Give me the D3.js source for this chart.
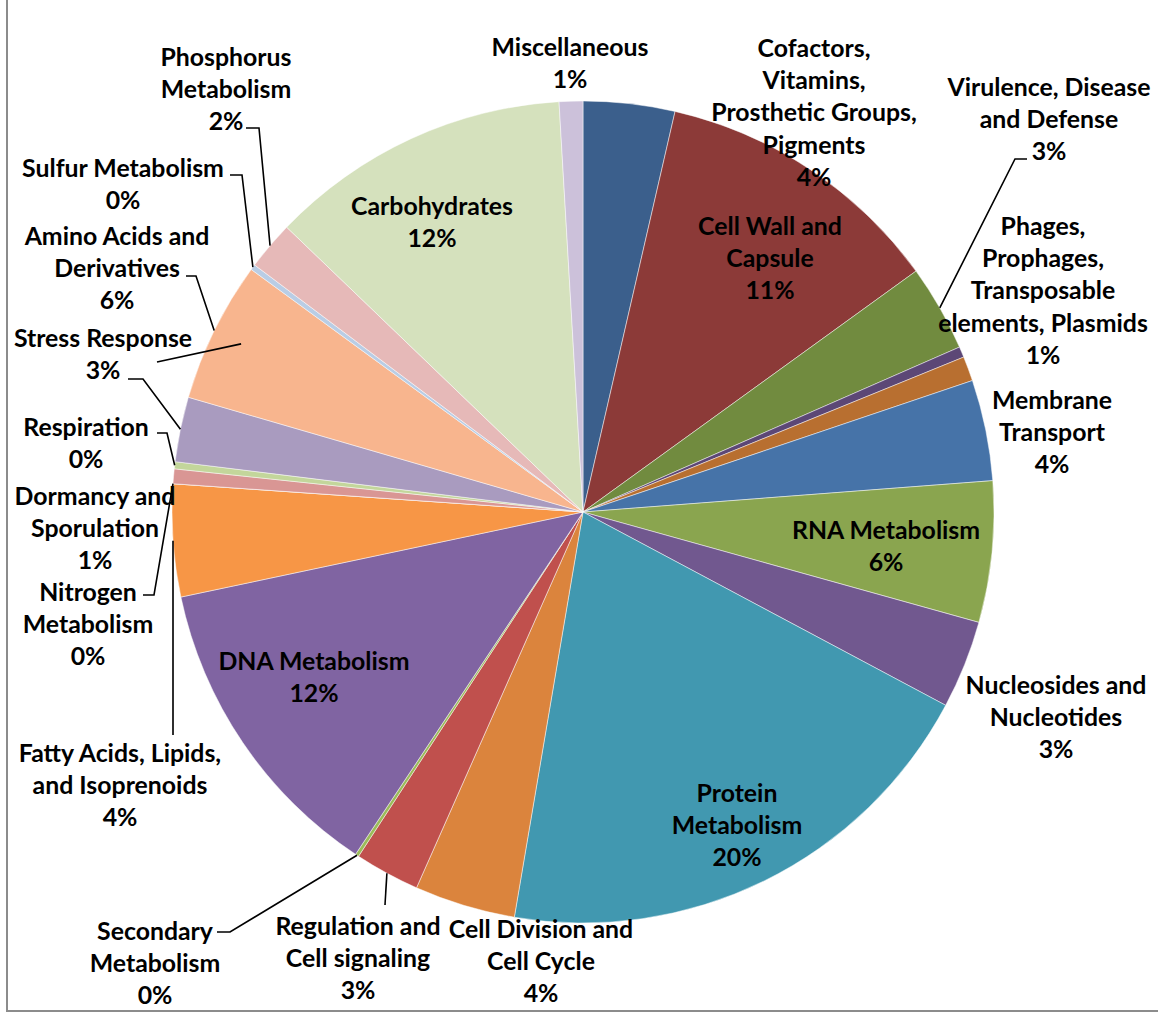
<!DOCTYPE html>
<html>
<head>
<meta charset="utf-8">
<script src="https://cdn.jsdelivr.net/npm/d3@7"></script>
<style>
  body { margin: 0; background: #fff; }
  svg text { font-family: Lato, "Open Sans", sans-serif; font-weight: 700; fill: #000; }
</style>
</head>
<body>
<svg id="chart" width="1158" height="1015"></svg>
<script>
// Subsystem categories, clockwise from 12 o'clock ("\n" marks label line breaks)
const categories = [
  "Cofactors,\nVitamins,\nProsthetic Groups,\nPigments",
  "Cell Wall and\nCapsule",
  "Virulence, Disease\nand Defense",
  "Potassium metabolism",
  "Phages,\nProphages,\nTransposable\nelements, Plasmids",
  "Membrane\nTransport",
  "RNA Metabolism",
  "Nucleosides and\nNucleotides",
  "Protein\nMetabolism",
  "Cell Division and\nCell Cycle",
  "Regulation and\nCell signaling",
  "Secondary\nMetabolism",
  "DNA Metabolism",
  "Fatty Acids, Lipids,\nand Isoprenoids",
  "Nitrogen\nMetabolism",
  "Dormancy and\nSporulation",
  "Respiration",
  "Stress Response",
  "Amino Acids and\nDerivatives",
  "Sulfur Metabolism",
  "Phosphorus\nMetabolism",
  "Carbohydrates",
  "Miscellaneous"
];

// Share of annotated features per category (%)
const values = [
  3.60, 11.45, 3.40, 0.42, 0.97, 3.97, 5.55, 3.47, 19.90, 3.97, 2.56, 0.14,
  12.36, 4.42, 0.00, 0.58, 0.28, 2.55, 5.55, 0.22, 1.92, 11.90, 0.93
];

// Slice fills
const colors = [
  "#3b5f8c", "#8c3a38", "#718b3f", "#5c4776", "#b86f30", "#4673a8", "#8aa54f",
  "#71588f", "#4198b0", "#db843d", "#c0504d", "#9bbb59", "#8064a2", "#f79646",
  "#95b3d7", "#d99694", "#c3d69b", "#a99bbf", "#f8b58e", "#b9cde5", "#e6b9b8",
  "#d5e1bd", "#ccc1da"
];

// Categories whose label is left off the chart
const unlabeled = ["Potassium metabolism"];

const data = categories.map((c, i) => ({ name: c, value: values[i], color: colors[i] }));
const total = d3.sum(values);

const svg = d3.select("#chart");
const cx = 583, cy = 512, R = 411;

// chart-area frame
svg.append("path")
  .attr("d", "M7,-2V1011H1160")
  .attr("fill", "none")
  .attr("stroke", "#8c8c8c")
  .attr("stroke-width", 2);

const pie = d3.pie().sort(null).value(d => d.value);
const arcs = pie(data);
const arc = d3.arc().innerRadius(0).outerRadius(R);

const g = svg.append("g").attr("transform", `translate(${cx},${cy})`);
g.selectAll("path.slice")
  .data(arcs)
  .join("path")
  .attr("class", "slice")
  .attr("d", arc)
  .attr("fill", d => d.data.color)
  .attr("stroke", "#ffffff")
  .attr("stroke-opacity", 0.6)
  .attr("stroke-width", 0.8);

// point inside a slice at its mid angle, at a fraction of the radius
function slicePoint(name, frac) {
  const a = arcs.find(d => d.data.name === name);
  const ang = (a.startAngle + a.endAngle) / 2;
  const r = R * frac;
  return [cx + r * Math.sin(ang), cy - r * Math.cos(ang)];
}

// font size so label text sets at the intended width
const probe = svg.append("text").attr("font-size", 100).text("Miscellaneous");
const probeW = probe.node().getComputedTextLength();
probe.remove();
const fontSize = Math.max(18, Math.min(26, 157 / probeW * 100));
const lineH = 32.4;

// label placement: centre x, centre y of first line
const labelPos = {
  "Cofactors": [814, 48],
  "Cell Wall": [770, 226],
  "Virulence": [1049, 87],
  "Phages": [1043, 226],
  "Membrane": [1052, 400],
  "RNA": [886, 530],
  "Nucleosides": [1056, 685],
  "Protein": [737, 793],
  "Cell Division": [541, 929],
  "Regulation": [358, 926],
  "Secondary": [155, 931],
  "DNA": [314, 661],
  "Fatty": [120, 753],
  "Nitrogen": [88, 592],
  "Dormancy": [95, 496],
  "Respiration": [86, 427],
  "Stress": [103, 338],
  "Amino": [117, 236],
  "Sulfur": [123, 168],
  "Phosphorus": [226, 57],
  "Carbohydrates": [432, 206],
  "Miscellaneous": [570, 47]
};
const keyOf = name => Object.keys(labelPos).find(k => name.startsWith(k));

// leader lines: label-side elbow points, then the slice end
const leaders = [
  { key: "Virulence", pts: [[1027, 159], [1015, 159]], frac: 1 },
  { key: "Phosphorus", pts: [[246, 128], [259, 128]], frac: 1 },
  { key: "Sulfur", pts: [[230, 175], [242, 175]], frac: 1 },
  { key: "Amino", pts: [[186, 276], [196, 276]], frac: 1 },
  { key: "Amino", pts: [[157, 362]], frac: 0.927 },
  { key: "Stress", pts: [[128, 379], [143, 379]], frac: 1 },
  { key: "Respiration", pts: [[157, 433], [167, 433]], frac: 1 },
  { key: "Nitrogen", pts: [[143, 595], [154, 595]], frac: 1 },
  { key: "Fatty", pts: [[173, 735]], frac: 1 },
  { key: "Secondary", pts: [[217, 932], [230, 932]], frac: 1 },
  { key: "Regulation", pts: [[385, 905]], frac: 1 }
];

const line = d3.line();
svg.append("g")
  .selectAll("path")
  .data(leaders)
  .join("path")
  .attr("d", l => {
    const name = categories.find(c => keyOf(c) === l.key);
    return line([...l.pts, slicePoint(name, l.frac)]);
  })
  .attr("fill", "none")
  .attr("stroke", "#000")
  .attr("stroke-width", 1.6);

// data labels: category name and rounded percentage
const labels = svg.append("g");
arcs.forEach(a => {
  const name = a.data.name;
  if (unlabeled.includes(name)) return;
  const [x, y] = labelPos[keyOf(name)];
  const lines = name.split("\n").concat(Math.round(a.data.value / total * 100) + "%");
  const t = labels.append("text")
    .attr("text-anchor", "middle")
    .attr("font-size", fontSize);
  lines.forEach((s, i) => {
    t.append("tspan")
      .attr("x", x)
      .attr("y", y + i * lineH)
      .attr("dy", "0.35em")
      .text(s);
  });
});
</script>
</body>
</html>
